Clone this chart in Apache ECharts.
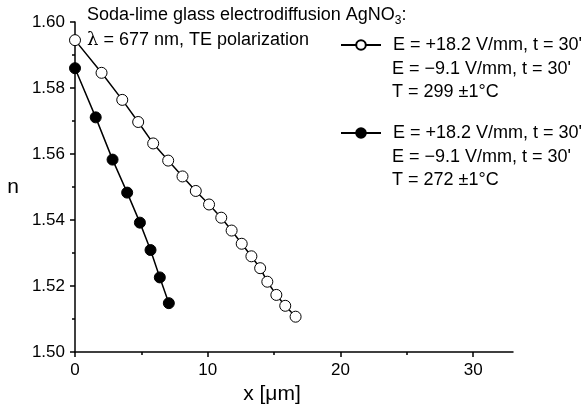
<!DOCTYPE html>
<html><head><meta charset="utf-8">
<script src="https://cdn.jsdelivr.net/npm/echarts@6/dist/echarts.min.js"></script>
<style>html,body{margin:0;padding:0;background:#fff}#c{width:584px;height:412px}</style>
</head><body><div id="c"></div>
<script>
// Data
const openX = [0, 2.00, 3.56, 4.76, 5.89, 7.02, 8.10, 9.10, 10.10, 11.02, 11.80, 12.56, 13.29, 13.95, 14.49, 15.17, 15.84, 16.62];
const openN = [1.5945, 1.5846, 1.5764, 1.5697, 1.5632, 1.5580, 1.5532, 1.5488, 1.5447, 1.5407, 1.5368, 1.5328, 1.5290, 1.5254, 1.5213, 1.5173, 1.5140, 1.5107];
const filledX = [0, 1.56, 2.83, 3.93, 4.89, 5.69, 6.39, 7.07];
const filledN = [1.5860, 1.5711, 1.5583, 1.5483, 1.5392, 1.5309, 1.5226, 1.5148];
const xTickValues = [0, 10, 20, 30];
const xMinorValues = [5, 15, 25];
const openLegend = ["E = +18.2 V/mm, t = 30'", "E = \u22129.1 V/mm, t = 30'", "T = 299 \u00b11\u00b0C"];
const filledLegend = ["E = +18.2 V/mm, t = 30'", "E = \u22129.1 V/mm, t = 30'", "T = 272 \u00b11\u00b0C"];

const FONT = 'Liberation Sans, Arial, sans-serif';
const FS = 18;
const chart = echarts.init(document.getElementById('c'), null, {renderer: 'canvas'});

const zip = (xs, ys) => xs.map((x, i) => [x, ys[i]]);

chart.setOption({
  animation: false,
  backgroundColor: '#fff',
  textStyle: {fontFamily: FONT, color: '#000'},
  grid: {left: 75, right: 71, top: 22, bottom: 60, containLabel: false},
  title: {
    left: 87, top: 3, padding: 0,
    text: 'Soda-lime glass electrodiffusion AgNO{sub|3}:\n{l|\u03bb} = 677 nm, TE polarization',
    textStyle: {
      fontFamily: FONT, fontSize: FS, fontWeight: 'normal', color: '#000', lineHeight: 25,
      rich: {
        sub: {fontFamily: FONT, fontSize: 12, padding: [10, 0, 0, 0], color: '#000'},
        l: {fontFamily: 'DejaVu Serif, serif', fontSize: FS, color: '#000'}
      }
    }
  },
  legend: [
    {
      left: 340, top: 36, itemWidth: 40, itemHeight: 12, padding: 0,
      data: ['open'],
      formatter: () => openLegend[0],
      textStyle: {fontFamily: FONT, fontSize: FS, color: '#000', padding: [0, 0, 0, 7]}
    },
    {
      left: 340, top: 124, itemWidth: 40, itemHeight: 12, padding: 0,
      data: ['filled'],
      formatter: () => filledLegend[0],
      textStyle: {fontFamily: FONT, fontSize: FS, color: '#000', padding: [0, 0, 0, 7]}
    }
  ],
  graphic: [
    {type: 'text', left: 392, top: 58, style: {text: openLegend[1] + '\n' + openLegend[2], font: FS + 'px ' + FONT, fill: '#000', lineHeight: 23}},
    {type: 'text', left: 392, top: 146, style: {text: filledLegend[1] + '\n' + filledLegend[2], font: FS + 'px ' + FONT, fill: '#000', lineHeight: 23}}
  ],
  xAxis: [
    {
      type: 'value', min: 0, max: 33, interval: 10,
      name: 'x [\u03bcm]', nameLocation: 'middle', nameGap: 32,
      nameTextStyle: {fontFamily: FONT, fontSize: 21, color: '#000', padding: [0, 44, 0, 0]},
      axisLine: {show: true, onZero: false, lineStyle: {color: '#000', width: 1.5}},
      axisTick: {show: true, length: 5, customValues: xTickValues, lineStyle: {color: '#000', width: 1.5}},
      axisLabel: {show: true, customValues: xTickValues, margin: 10, fontFamily: FONT, fontSize: 17, color: '#000'},
      splitLine: {show: false}
    },
    {
      type: 'value', min: 0, max: 33, position: 'bottom',
      axisLine: {show: false, onZero: false},
      axisTick: {show: true, length: 3, customValues: xMinorValues, lineStyle: {color: '#000', width: 1.5}},
      axisLabel: {show: false},
      splitLine: {show: false}
    }
  ],
  yAxis: {
    type: 'value', min: 1.50, max: 1.60, interval: 0.02,
    name: 'n', nameLocation: 'middle', nameRotate: 0, nameGap: 56,
    nameTextStyle: {fontFamily: FONT, fontSize: 21, color: '#000'},
    axisLine: {show: true, onZero: false, lineStyle: {color: '#000', width: 1.5}},
    axisTick: {show: true, length: 5, lineStyle: {color: '#000', width: 1.5}},
    minorTick: {show: true, splitNumber: 2, length: 3, lineStyle: {color: '#000', width: 1.5}},
    axisLabel: {margin: 10, fontFamily: FONT, fontSize: 17, color: '#000', formatter: v => v.toFixed(2)},
    splitLine: {show: false}
  },
  series: [
    {
      name: 'open', type: 'line', data: zip(openX, openN),
      symbol: 'circle', symbolSize: 11, showAllSymbol: true,
      lineStyle: {color: '#000', width: 1.5},
      itemStyle: {color: '#fff', borderColor: '#000', borderWidth: 1},
      z: 3
    },
    {
      name: 'filled', type: 'line', data: zip(filledX, filledN),
      symbol: 'circle', symbolSize: 11, showAllSymbol: true,
      lineStyle: {color: '#000', width: 1.5},
      itemStyle: {color: '#000', borderColor: '#000', borderWidth: 1},
      z: 3
    }
  ]
});
</script>
</body></html>
